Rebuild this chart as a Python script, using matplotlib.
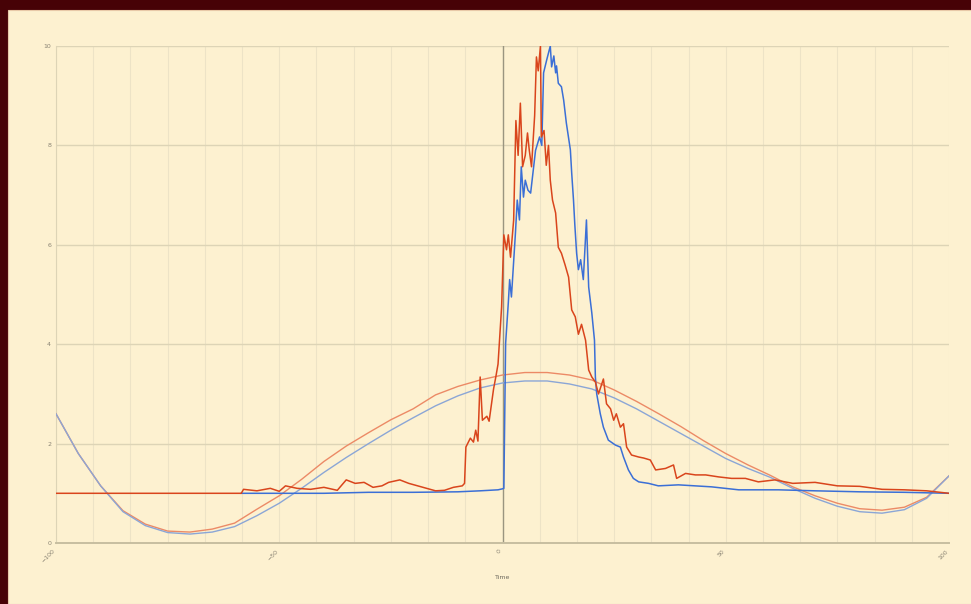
import matplotlib
matplotlib.use('Agg')
import matplotlib.pyplot as plt
from matplotlib.patches import Rectangle
from matplotlib.ticker import MultipleLocator

red_x = [-100, -58.5, -58, -55, -52, -50, -48.6, -46, -43, -40, -37, -35, -33, -31, -29, -27,
         -25.5, -23, -21, -19, -17, -15, -13, -11, -9, -8.5, -8.2, -7.2, -6.5, -6, -5.5, -5,
         -4.5, -3.5, -3, -2, -1.5, -1, -0.2, 0.3, 0.9, 1.3, 1.8, 2.5, 3, 3.5, 4, 4.5, 5.1, 5.6,
         6, 6.5, 7.2, 7.6, 8, 8.5, 8.7, 9.3, 9.8, 10.3, 10.7, 11.2, 11.9, 12.5, 13.2, 14, 14.8,
         15.5, 16.3, 17, 17.7, 18.6, 19.3, 20, 20.8, 21.5, 22.6, 23.3, 24.2, 24.9, 25.5, 26.4,
         27.1, 27.8, 28.9, 30.5, 31.6, 33.1, 34.3, 36.5, 38.3, 39, 41, 43.2, 45.5, 48.4, 51.3,
         54.4, 57.3, 61, 65, 70, 75, 80, 85, 90, 95, 100]
red_y = [1.0, 1.0, 1.08, 1.05, 1.1, 1.04, 1.15, 1.1, 1.08, 1.12, 1.06, 1.27, 1.2, 1.22, 1.12, 1.15,
         1.22, 1.27, 1.2, 1.15, 1.1, 1.05, 1.06, 1.12, 1.15, 1.2, 1.93, 2.11, 2.03, 2.27, 2.05, 3.34,
         2.47, 2.55, 2.45, 3.1, 3.34, 3.6, 4.75, 6.2, 5.9, 6.2, 5.75, 6.5, 8.5, 7.8, 8.85, 7.57, 7.8, 8.25,
         7.9, 7.57, 8.6, 9.78, 9.5, 10.0, 8.17, 8.3, 7.6, 8.0, 7.3, 6.9, 6.64, 5.95, 5.83, 5.6, 5.35,
         4.69, 4.55, 4.2, 4.4, 4.08, 3.48, 3.34, 3.24, 3.0, 3.3, 2.8, 2.7, 2.47, 2.6, 2.33,
         2.4, 1.93, 1.77, 1.73, 1.71, 1.67, 1.47, 1.5, 1.57, 1.3, 1.4, 1.37, 1.37, 1.33, 1.3,
         1.3, 1.23, 1.27, 1.2, 1.22, 1.15, 1.14, 1.08, 1.07, 1.05, 1.0]

blue_x = [-58.5, -50, -40, -30, -20, -10, -5, -1, 0, 0.3, 0.7, 1.3, 1.6, 2, 2.9, 3.3, 3.8, 4.2,
          4.7, 5.1, 5.7, 6.3, 7.4, 8.3, 8.8, 9.2, 9.9, 10.7, 11, 11.5, 11.9, 12.1, 12.5, 13.2,
          13.7, 14.3, 15.2, 15.5, 15.9, 16.2, 16.6, 17, 17.5, 18.1, 18.8, 19.3, 20, 20.6, 20.8,
          21.1, 21.9, 22.6, 23.7, 25.3, 26.4, 27.1, 28.2, 29.3, 30.5, 32.7, 34.9, 39.4, 46.8,
          52.9, 61.8, 70, 80, 90, 100]
blue_y = [1.0, 1.0, 1.0, 1.02, 1.02, 1.03, 1.05, 1.07, 1.09, 1.1, 4.02, 4.83, 5.3, 4.95, 6.24, 6.9, 6.5, 7.57,
          6.96, 7.3, 7.1, 7.04, 7.9, 8.17, 8.0, 9.46, 9.72, 10.0, 9.58, 9.8, 9.46, 9.6, 9.25, 9.18,
          8.91, 8.45, 7.91, 7.44, 6.9, 6.4, 5.83, 5.5, 5.7, 5.3, 6.5, 5.15, 4.63, 4.08, 3.34,
          3.0, 2.6, 2.33, 2.07, 1.97, 1.93, 1.73, 1.47, 1.3, 1.23, 1.2, 1.15, 1.17, 1.13,
          1.07, 1.07, 1.05, 1.03, 1.02, 1.0]

# smooth fitted curves, read every 5 units
curve_x = [-100, -95, -90, -85, -80, -75, -70, -65, -60, -55, -50, -45, -40, -35, -30, -25, -20,
           -15, -10, -5, 0, 5, 10, 15, 20, 25, 30, 35, 40, 45, 50, 55, 60, 65, 70, 75, 80, 85,
           90, 95, 100]
red_curve = [2.60, 1.80, 1.15, 0.65, 0.38, 0.24, 0.22, 0.28, 0.40, 0.68, 0.95, 1.28, 1.64, 1.95,
             2.22, 2.48, 2.70, 2.98, 3.15, 3.28, 3.38, 3.43, 3.43, 3.38, 3.28, 3.08, 2.85, 2.60,
             2.34, 2.06, 1.80, 1.57, 1.36, 1.13, 0.95, 0.80, 0.69, 0.66, 0.72, 0.92, 1.35]
blue_curve = [2.60, 1.80, 1.15, 0.63, 0.35, 0.21, 0.18, 0.22, 0.33, 0.55, 0.80, 1.10, 1.42, 1.72,
              2.00, 2.27, 2.52, 2.76, 2.96, 3.12, 3.22, 3.26, 3.26, 3.20, 3.10, 2.92, 2.70, 2.45,
              2.20, 1.95, 1.70, 1.50, 1.32, 1.10, 0.90, 0.74, 0.63, 0.60, 0.67, 0.90, 1.35]

x_ticks = [-100, -50, 0, 50, 100]
y_ticks = [0, 2, 4, 6, 8, 10]

RED = '#d9451c'
BLUE = '#3b6fd6'
CREAM = '#fdf1d0'

fig = plt.figure(figsize=(9.71, 6.04), dpi=100)
fig.patch.set_facecolor('#470206')
fig.add_artist(Rectangle((8 / 971, 0), 1, 1 - 10 / 604, transform=fig.transFigure,
                         facecolor=CREAM, edgecolor='#e8c9a8', linewidth=0.8, zorder=0))

ax = fig.add_axes([56 / 971, 1 - 543 / 604, (949 - 56) / 971, (543 - 46) / 604])
ax.set_facecolor(CREAM)

ax.plot(curve_x, red_curve, color='#ec8a66', linewidth=1.0, zorder=3)
ax.plot(curve_x, blue_curve, color='#8ba6d6', linewidth=1.0, zorder=3)
ax.plot(blue_x, blue_y, color=BLUE, linewidth=1.1, zorder=4)
ax.plot(red_x, red_y, color=RED, linewidth=1.1, zorder=5)

ax.set_xlim(-100, 100)
ax.set_ylim(0, 10)
ax.set_xticks(x_ticks)
ax.set_yticks(y_ticks)
ax.xaxis.set_minor_locator(MultipleLocator(200 / 24))
ax.grid(True, which='minor', axis='x', color='#ede3c6', linewidth=0.8)
ax.grid(True, which='major', axis='x', color='#ede3c6', linewidth=0.8)
ax.grid(True, which='major', axis='y', color='#ddd4b6', linewidth=1.0)
ax.axvline(0, color='#9a9580', linewidth=1.0, zorder=2)

for side in ['top', 'right']:
    ax.spines[side].set_visible(False)
ax.spines['left'].set_color('#ddd4b6')
ax.spines['bottom'].set_color('#c7bea0')
ax.spines['bottom'].set_linewidth(1.4)

ax.tick_params(axis='both', which='both', length=0, labelsize=4.5, labelcolor='#8a8474')
ax.tick_params(axis='x', which='major', pad=4)
for lbl in ax.get_xticklabels():
    lbl.set_rotation(45)
    lbl.set_ha('right')
ax.set_xlabel('Time', fontsize=4.5, color='#6e6a5e', labelpad=8)

fig.savefig('out.png', dpi=100, facecolor=fig.get_facecolor())
